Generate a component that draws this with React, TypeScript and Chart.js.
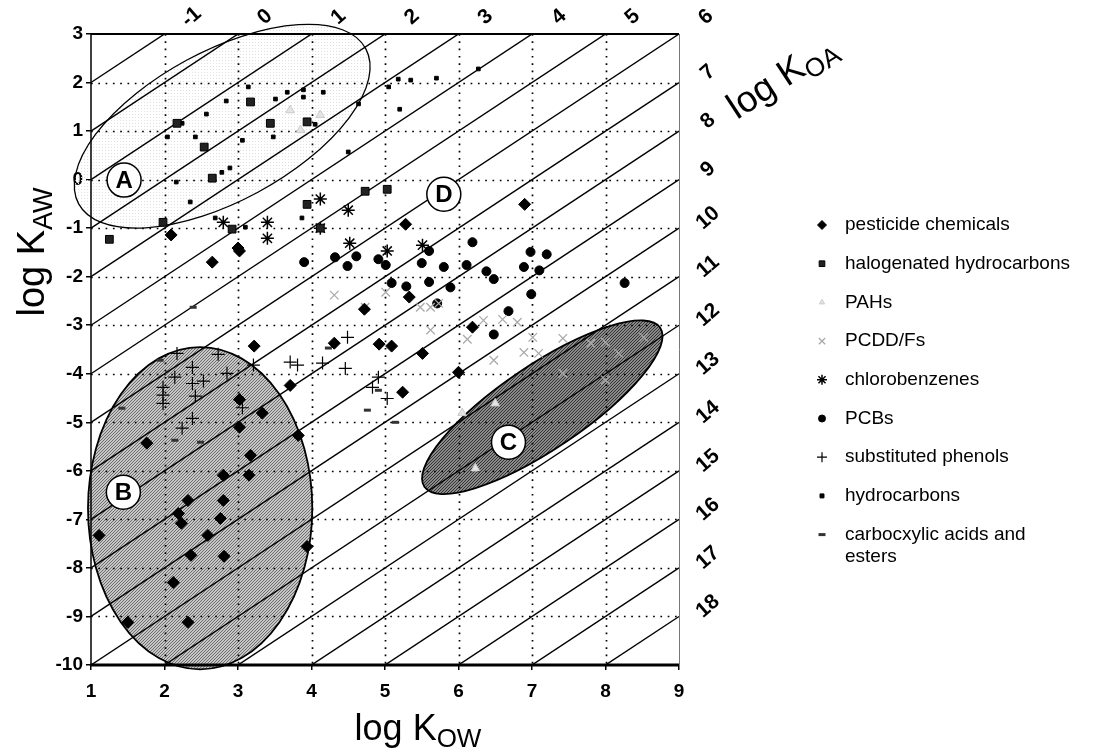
import React, { useEffect, useRef } from 'react';
import { Chart, registerables } from 'chart.js';
import { drawPoint } from 'chart.js/helpers';

Chart.register(...registerables);

const FONT = '"Liberation Sans", Arial, Helvetica, sans-serif';

// ---- data (log K_OW, log K_AW) ----
const pesticideChemicals: number[][] = [
  [2.09, -1.14], [3.0, -1.41], [5.28, -0.92], [6.9, -0.51], [2.65, -1.7], [3.02, -1.47], [3.22, -3.43],
  [3.71, -4.24], [3.02, -4.53], [3.33, -4.81], [3.02, -5.1], [3.82, -5.27], [1.76, -5.43], [3.17, -5.68],
  [4.31, -3.37], [4.92, -3.39], [2.8, -6.09], [3.15, -6.09], [5.33, -2.42], [5.09, -3.43], [5.51, -3.58],
  [6.0, -3.97], [5.24, -4.38], [6.19, -3.04], [4.72, -2.67], [2.32, -6.61], [2.8, -6.61], [2.19, -6.88],
  [2.23, -7.08], [2.76, -6.98], [2.59, -7.33], [1.11, -7.33], [2.36, -7.74], [2.81, -7.76], [3.94, -7.56],
  [2.12, -8.3], [1.5, -9.12], [2.32, -9.12],
];
const halogenatedHydrocarbons: number[][] = [
  [3.17, 1.6], [2.17, 1.16], [2.54, 0.67], [2.65, 0.03], [3.44, 1.16], [3.94, 1.19], [3.94, -0.51],
  [4.73, -0.24], [5.03, -0.2], [4.12, -1.0], [1.98, -0.88], [2.92, -1.02], [1.25, -1.23],
];
const pahs: number[][] = [
  [6.5, -4.61], [6.23, -5.95], [6.05, -4.81], [3.71, 1.43], [4.12, 1.33], [3.85, 1.02],
];
const pcddFs: number[][] = [
  [4.31, -2.38], [5.01, -2.32], [5.48, -2.63], [5.62, -2.63], [5.73, -2.55], [5.62, -3.1], [4.73, -2.63],
  [6.12, -3.29], [6.34, -2.9], [6.6, -2.88], [6.8, -2.94], [7.01, -3.25], [6.89, -3.56], [7.09, -3.58],
  [6.48, -3.72], [7.42, -3.27], [7.8, -3.37], [8.0, -3.35], [8.18, -3.58], [7.42, -3.99], [8.0, -4.13],
  [8.52, -3.25],
];
const chlorobenzenes: number[][] = [
  [4.12, -0.4], [4.5, -0.63], [2.8, -0.88], [3.4, -0.88], [3.4, -1.21], [4.12, -1.0], [4.52, -1.31],
  [5.51, -1.35], [5.03, -1.47],
];
const pcbs: number[][] = [
  [3.9, -1.7], [4.32, -1.6], [4.49, -1.78], [4.61, -1.58], [4.91, -1.64], [5.01, -1.76], [5.6, -1.47],
  [5.5, -1.72], [5.8, -1.8], [6.19, -1.29], [6.11, -1.76], [6.38, -1.89], [6.48, -2.05], [6.98, -1.49],
  [7.2, -1.54], [6.89, -1.8], [7.1, -1.87], [5.09, -2.13], [5.29, -2.2], [5.6, -2.11], [5.89, -2.22],
  [6.99, -2.36], [6.68, -2.71], [6.48, -3.19], [8.26, -2.13], [5.71, -2.55],
];
const substitutedPhenols: number[][] = [
  [2.17, -3.58], [2.73, -3.6], [2.38, -3.87], [2.14, -4.07], [2.38, -4.2], [2.53, -4.15], [2.85, -3.99],
  [1.98, -4.28], [1.98, -4.44], [1.98, -4.61], [2.42, -4.46], [2.38, -4.92], [2.24, -5.12], [3.06, -4.7],
  [3.21, -3.82], [3.71, -3.76], [3.81, -3.82], [4.15, -3.78], [4.46, -3.89], [4.49, -3.25], [4.91, -4.07],
  [4.83, -4.28], [5.03, -4.51],
];
const hydrocarbons: number[][] = [
  [3.14, 1.91], [3.67, 1.8], [3.89, 1.85], [4.16, 1.8], [3.51, 1.66], [3.89, 1.7], [2.84, 1.62], [2.57, 1.35],
  [2.24, 1.16], [2.04, 0.88], [2.42, 0.88], [3.06, 0.81], [3.48, 0.88], [4.05, 1.14], [2.78, 0.15],
  [2.89, 0.24], [2.16, -0.05], [2.35, -0.46], [4.5, 0.57], [4.64, 1.56], [3.87, -0.79], [3.1, -0.98],
  [2.69, -0.79], [5.18, 2.07], [5.35, 2.05], [5.7, 2.09], [6.27, 2.28], [5.05, 1.91], [5.2, 1.45],
];
const carboxylicAcids: number[][] = [
  [2.39, -2.63], [1.42, -4.71], [1.94, -3.72], [2.14, -5.37], [2.49, -5.41], [4.76, -4.75], [4.91, -4.34],
  [4.23, -3.47], [5.14, -5.0],
];

const SERIES_LABELS = [
  'pesticide chemicals', 'halogenated hydrocarbons', 'PAHs', 'PCDD/Fs', 'chlorobenzenes', 'PCBs',
  'substituted phenols', 'hydrocarbons', ['carbocxylic acids and', 'esters'],
];

// axis ranges
const X_MIN = 1, X_MAX = 9;
const Y_MIN = -10, Y_MAX = 3;
// iso-K_OA lines (log K_OA = log K_OW - log K_AW)
const KOA_LINES = [-1, 0, 1, 2, 3, 4, 5, 6, 7, 8, 9, 10, 11, 12, 13, 14, 15, 16, 17, 18];
const KOA_TOP_LABELS = [-1, 0, 1, 2, 3, 4, 5, 6];
const KOA_RIGHT_LABELS = [7, 8, 9, 10, 11, 12, 13, 14, 15, 16, 17, 18];

// regions (center in data units, semi-axes in x / y units, rotation in degrees)
const ELLIPSES = [
  { name: 'A', cx: 2.785, cy: 1.1, rx: 2.22, ry: 1.546, rot: -28.4, fill: 'light' },
  { name: 'B', cx: 2.485, cy: -6.77, rx: 1.526, ry: 3.32, rot: 0, fill: 'mid' },
  { name: 'C', cx: 7.14, cy: -4.69, rx: 1.935, ry: 0.866, rot: -34, fill: 'dark' },
];
const REGION_LABELS = [
  { name: 'A', x: 1.45, y: -0.01 },
  { name: 'B', x: 1.44, y: -6.44 },
  { name: 'C', x: 6.68, y: -5.41 },
  { name: 'D', x: 5.8, y: -0.3 },
];

const toXY = (a: number[][]) => a.map(([x, y]) => ({ x, y }));

function makePattern(ctx: CanvasRenderingContext2D, kind: string) {
  const c = document.createElement('canvas');
  c.width = 6; c.height = 6;
  const p = c.getContext('2d')!;
  for (let i = 0; i < 6; i++) {
    for (let j = 0; j < 6; j++) {
      let col = 'rgba(0,0,0,0)';
      if (kind === 'light') col = (i % 3 === 0 && j % 3 === 0) ? '#e0e0e0' : 'rgba(0,0,0,0)';
      if (kind === 'mid') col = ((i + j) % 3 === 0) ? '#6e6e6e' : '#c6c6c6';
      if (kind === 'dark') col = ((i + j) % 3 === 0) ? '#333333' : '#8a8a8a';
      p.fillStyle = col;
      p.fillRect(i, j, 1, 1);
    }
  }
  return ctx.createPattern(c, 'repeat')!;
}

function ellipsePath(chart: any, e: any) {
  const { ctx, scales: { x, y } } = chart;
  const ux = x.getPixelForValue(1) - x.getPixelForValue(0);
  const uy = y.getPixelForValue(0) - y.getPixelForValue(1);
  ctx.beginPath();
  ctx.ellipse(x.getPixelForValue(e.cx), y.getPixelForValue(e.cy), e.rx * ux, e.ry * uy,
    (e.rot * Math.PI) / 180, 0, Math.PI * 2);
}

function drawSubText(ctx: CanvasRenderingContext2D, main: string, sub: string, size: number, subSize: number,
  x: number, y: number, angle: number, align: 'center' | 'left') {
  ctx.save();
  ctx.translate(x, y);
  ctx.rotate(angle);
  ctx.fillStyle = '#000';
  ctx.textBaseline = 'alphabetic';
  ctx.textAlign = 'left';
  ctx.font = `${size}px ${FONT}`;
  const w1 = ctx.measureText(main).width;
  ctx.font = `${subSize}px ${FONT}`;
  const w2 = ctx.measureText(sub).width;
  const start = align === 'center' ? -(w1 + w2) / 2 : 0;
  ctx.font = `${size}px ${FONT}`;
  ctx.fillText(main, start, 0);
  ctx.font = `${subSize}px ${FONT}`;
  ctx.fillText(sub, start + w1, size * 0.2);
  ctx.restore();
}

const overlayPlugin = {
  id: 'overlay',
  beforeDatasetsDraw(chart: any) {
    const { ctx, chartArea: ca, scales: { x, y } } = chart;
    const pats: any = {
      light: makePattern(ctx, 'light'),
      mid: makePattern(ctx, 'mid'),
      dark: makePattern(ctx, 'dark'),
    };
    // region fills
    for (const e of ELLIPSES) {
      ctx.save();
      ellipsePath(chart, e);
      ctx.fillStyle = pats[e.fill];
      ctx.fill();
      ctx.restore();
    }
    // dotted grid
    ctx.save();
    ctx.strokeStyle = '#000';
    ctx.lineWidth = 1.7;
    ctx.setLineDash([1.7, 5.6]);
    for (let v = X_MIN + 1; v < X_MAX; v++) {
      const px = Math.round(x.getPixelForValue(v)) + 0.5;
      ctx.beginPath(); ctx.moveTo(px, ca.top); ctx.lineTo(px, ca.bottom); ctx.stroke();
    }
    for (let v = Y_MIN + 1; v < Y_MAX; v++) {
      const py = Math.round(y.getPixelForValue(v)) + 0.5;
      ctx.beginPath(); ctx.moveTo(ca.left, py); ctx.lineTo(ca.right, py); ctx.stroke();
    }
    ctx.restore();
    // iso-K_OA diagonals
    ctx.save();
    ctx.beginPath(); ctx.rect(ca.left, ca.top, ca.width, ca.height); ctx.clip();
    ctx.strokeStyle = '#000';
    ctx.lineWidth = 1.4;
    for (const k of KOA_LINES) {
      ctx.beginPath();
      ctx.moveTo(x.getPixelForValue(X_MIN), y.getPixelForValue(X_MIN - k));
      ctx.lineTo(x.getPixelForValue(X_MAX), y.getPixelForValue(X_MAX - k));
      ctx.stroke();
    }
    ctx.restore();
    // region outlines
    for (const e of ELLIPSES) {
      ctx.save();
      ellipsePath(chart, e);
      ctx.strokeStyle = '#000';
      ctx.lineWidth = e.name === 'A' ? 1.3 : 1.8;
      ctx.stroke();
      ctx.restore();
    }
  },
  afterDatasetsDraw(chart: any) {
    const { ctx, chartArea: ca, scales: { x, y } } = chart;
    // region label circles
    for (const r of REGION_LABELS) {
      const px = x.getPixelForValue(r.x), py = y.getPixelForValue(r.y);
      ctx.save();
      ctx.beginPath(); ctx.arc(px, py, 17, 0, Math.PI * 2);
      ctx.fillStyle = '#fff'; ctx.fill();
      ctx.lineWidth = 1.5; ctx.strokeStyle = '#000'; ctx.stroke();
      ctx.fillStyle = '#000';
      ctx.font = `bold 24px ${FONT}`;
      ctx.textAlign = 'center'; ctx.textBaseline = 'middle';
      ctx.fillText(r.name, px, py + 1);
      ctx.restore();
    }
    // frame
    ctx.save();
    ctx.strokeStyle = '#000';
    ctx.lineWidth = 2; ctx.beginPath(); ctx.moveTo(ca.left, ca.top); ctx.lineTo(ca.right, ca.top); ctx.stroke();
    ctx.lineWidth = 1.5; ctx.beginPath(); ctx.moveTo(ca.left, ca.top); ctx.lineTo(ca.left, ca.bottom); ctx.stroke();
    ctx.lineWidth = 3; ctx.beginPath(); ctx.moveTo(ca.left - 1, ca.bottom); ctx.lineTo(ca.right, ca.bottom); ctx.stroke();
    ctx.strokeStyle = '#777'; ctx.lineWidth = 1;
    ctx.beginPath(); ctx.moveTo(ca.right + 0.5, ca.top); ctx.lineTo(ca.right + 0.5, ca.bottom); ctx.stroke();
    ctx.restore();
    // K_OA labels
    ctx.save();
    ctx.fillStyle = '#000';
    ctx.font = `bold 21px ${FONT}`;
    ctx.textAlign = 'center'; ctx.textBaseline = 'middle';
    for (const k of KOA_TOP_LABELS) {
      const px = x.getPixelForValue(Y_MAX + k) + 27;
      ctx.save(); ctx.translate(px, ca.top - 17); ctx.rotate(-0.72); ctx.fillText(String(k), 0, 0); ctx.restore();
    }
    for (const k of KOA_RIGHT_LABELS) {
      const py = y.getPixelForValue(X_MAX - k) - 10;
      ctx.save(); ctx.translate(ca.right + 29, py); ctx.rotate(-0.72); ctx.fillText(String(k), 0, 0); ctx.restore();
    }
    ctx.restore();
    // axis titles
    drawSubText(ctx, 'log K', 'OW', 36, 26, 418, 740, 0, 'center');
    drawSubText(ctx, 'log K', 'AW', 38, 27, 44, 252, -Math.PI / 2, 'center');
    drawSubText(ctx, 'log K', 'OA', 37, 26, 737, 120, -0.58, 'left');
    // legend
    ctx.save();
    const ds = chart.data.datasets;
    const lx = 822, tx = 845;
    let ly = 225;
    for (let i = 0; i < ds.length; i++) {
      const d = ds[i];
      ctx.save();
      ctx.fillStyle = d.backgroundColor;
      ctx.strokeStyle = d.borderColor;
      ctx.lineWidth = d.borderWidth;
      drawPoint(ctx, { pointStyle: d.pointStyle, radius: d.legendRadius, rotation: 0, borderWidth: d.borderWidth }, lx, ly);
      ctx.restore();
      ctx.fillStyle = '#000';
      ctx.font = `19px ${FONT}`;
      ctx.textAlign = 'left'; ctx.textBaseline = 'middle';
      const lab = SERIES_LABELS[i];
      const lines = Array.isArray(lab) ? lab : [lab];
      lines.forEach((t, j) => ctx.fillText(t, tx, ly + j * 22));
      ly += 38.7;
    }
    ctx.restore();
  },
};

export default function App() {
  const ref = useRef<HTMLCanvasElement>(null);
  useEffect(() => {
    const mk = (data: number[][], style: string, r: number, lr: number, bg: string, bc: string, bw: number) => ({
      data: toXY(data), pointStyle: style, pointRadius: r, pointHoverRadius: r, backgroundColor: bg,
      borderColor: bc, borderWidth: bw, pointBorderWidth: bw, legendRadius: lr, showLine: false,
    });
    const datasets: any[] = [
      mk(pesticideChemicals, 'rectRot', 6, 4.5, '#000', '#000', 1),
      mk(halogenatedHydrocarbons, 'rect', 5.5, 4, '#222', '#000', 1),
      mk(pahs, 'triangle', 5, 3, '#e4e4e4', '#cccccc', 1),
      mk(pcddFs, 'crossRot', 6, 4.5, '#aaaaaa', '#aaaaaa', 1.3),
      mk(chlorobenzenes, 'star', 6.5, 5, '#000', '#000', 1.5),
      mk(pcbs, 'circle', 4.5, 3.5, '#000', '#000', 1),
      mk(substitutedPhenols, 'cross', 6.5, 5, '#000', '#000', 1.2),
      mk(hydrocarbons, 'rect', 2.6, 2.8, '#000', '#000', 1),
      mk(carboxylicAcids, 'line', 3.5, 3.5, '#333', '#333', 3),
    ];
    datasets.forEach((d, i) => { d.label = Array.isArray(SERIES_LABELS[i]) ? (SERIES_LABELS[i] as string[]).join(' ') : SERIES_LABELS[i]; });
    const chart = new Chart(ref.current!, {
      type: 'scatter',
      data: { datasets },
      options: {
        responsive: false,
        animation: false,
        layout: { padding: { left: 0, top: 34, right: 439, bottom: 0 } },
        plugins: { legend: { display: false }, tooltip: { enabled: false } },
        scales: {
          x: {
            type: 'linear', min: X_MIN, max: X_MAX,
            afterFit: (s: any) => { s.height = 89; },
            ticks: { stepSize: 1, color: '#000', font: { family: FONT, size: 19, weight: 'bold' }, padding: 10, autoSkip: false },
            grid: { drawOnChartArea: false, drawTicks: true, tickLength: 5, color: '#000', lineWidth: 1.5 },
            border: { display: false },
          },
          y: {
            type: 'linear', min: Y_MIN, max: Y_MAX,
            afterFit: (s: any) => { s.width = 91; },
            ticks: { stepSize: 1, color: '#000', font: { family: FONT, size: 19, weight: 'bold' }, padding: 3, autoSkip: false },
            grid: { drawOnChartArea: false, drawTicks: true, tickLength: 5, color: '#000', lineWidth: 1.5 },
            border: { display: false },
          },
        },
      },
      plugins: [overlayPlugin],
    } as any);
    return () => chart.destroy();
  }, []);
  return (
    <div style={{ position: 'fixed', left: 0, top: 0, width: 1118, height: 754, background: '#fff' }}>
      <canvas ref={ref} width={1118} height={754} style={{ display: 'block', width: 1118, height: 754 }} />
    </div>
  );
}
